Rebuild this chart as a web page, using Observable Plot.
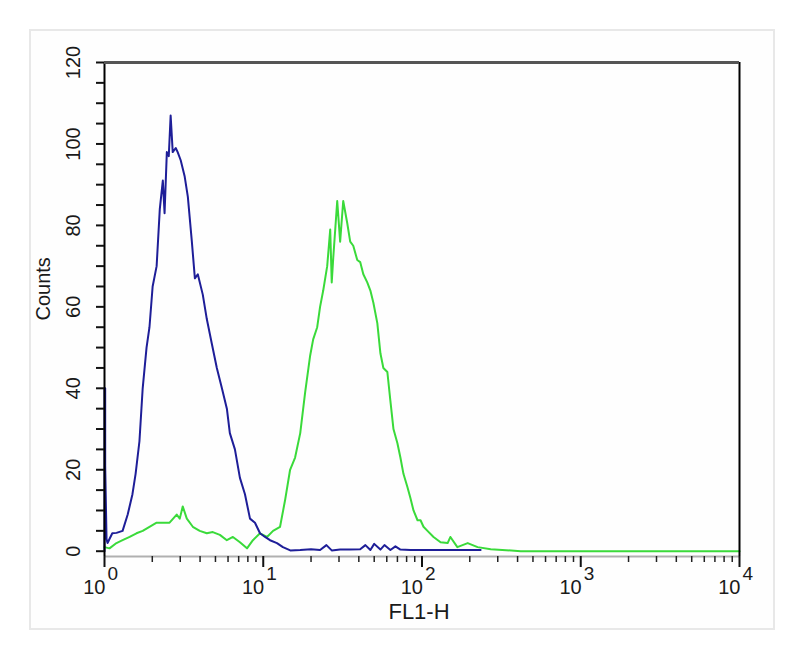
<!DOCTYPE html>
<html><head><meta charset="utf-8">
<script src="https://cdn.jsdelivr.net/npm/d3@7"></script>
<script src="https://cdn.jsdelivr.net/npm/@observablehq/plot@0.6"></script>
<style>
html,body{margin:0;padding:0;background:#fff;}
#wrap{position:relative;width:800px;height:656px;overflow:hidden;}
#box{position:absolute;left:29px;top:29px;width:742px;height:597px;border:2px solid #e8e8e8;background:#fefefe;}
#chart{position:absolute;left:0;top:0;}
</style></head><body>
<div id="wrap"><div id="box"></div><div id="chart"></div></div>
<script>
// Blue histogram (control)
const blueFL = [1.00,1.00,1.01,1.01,1.03,1.045,1.075,1.12,1.19,1.30,1.40,1.50,1.57,1.66,1.74,1.84,1.92,2.01,2.13,2.23,2.33,2.39,2.47,2.54,2.61,2.69,2.81,2.89,3.02,3.20,3.35,3.55,3.71,3.87,4.16,4.41,4.74,5.10,5.49,5.90,6.16,6.63,7.13,7.67,8.25,8.87,9.54,10.26,11.03,12.2,13.3,14.8,17.1,20,22.8,25,27,30.5,35,40.8,44,47.3,50,54.7,58,63.2,68,73.1,84.6,97.9,131,175,234];
const blueCounts = [0,40,40,21,3,2,3,4.4,4.5,5,9,14,19,27,40,50,55,65,70,84,91,83,98,97,107,98,99,98,96,92,87,76,67,68,63,57,51,45,40,35,29,25,18,14,8,7,4.4,3.5,2.7,2,1,0.2,0.3,0.5,0.3,1.5,0.2,0.4,0.4,0.5,1.5,0.3,1.8,0.4,1.5,0.3,1.2,0.4,0.3,0.3,0.3,0.3,0.3];
// Green histogram (antibody)
const greenFL = [1.00,1.075,1.19,1.30,1.44,1.59,1.74,1.92,2.13,2.33,2.57,2.85,2.98,3.11,3.30,3.60,3.98,4.41,4.81,5.33,5.90,6.44,7.13,7.90,8.61,9.54,10.56,11.53,12.76,13.72,14.76,15.87,17.1,18.36,19.74,20.63,21.87,22.8,23.86,25.28,26.41,27.0,27.6,29.24,30.5,31.9,33.8,35.3,36.9,39.1,40.8,42.7,45.2,47.3,49.4,52.3,54.7,57.1,60.5,63.2,66.1,70.0,73.1,76.4,81.0,84.6,88.4,93.7,97.9,102.2,108.3,118.2,130.9,145,151,167,194,224,271,419,1000,10000];
const greenCounts = [1,0.7,2,2.7,3.5,4.4,5,6,7,7,7,9,8,11,8,6,5,4.4,4.7,4,2.7,3.5,2.2,0.7,2.7,4.4,3.5,5,6,12.5,20,23,29,39,48,52,55,60,64,70,79,66,72,86,76,86,80.6,76,75,71.5,71,68,66,64,61,56,48.6,45,44,37,30,26.5,23,19,15.7,13,10,7.6,7.6,6,5,3.5,2.2,2,3.5,1,2,1,0.5,0,0,0];

const yMajorTicks = [0,20,40,60,80,100,120];
const yMinorTicks = [0,5,10,15,20,25,30,35,40,45,50,55,60,65,70,75,80,85,90,95,100,105,110,115,120];
const xMajorTicks = [1,10,100,1000,10000];
const xMinorTicks = [2,3,4,5,6,7,8,9,20,30,40,50,60,70,80,90,200,300,400,500,600,700,800,900,2000,3000,4000,5000,6000,7000,8000,9000];
const xExponents = ["0","1","2","3","4"];
const xLabel = "FL1-H";
const yLabel = "Counts";

const blue = blueFL.map((v,i)=>({fl:v, count:blueCounts[i]}));
const green = greenFL.map((v,i)=>({fl:v, count:greenCounts[i]}));

const font = "'Liberation Sans', Arial, Helvetica, sans-serif";
const ink = "#1a1a1a";
const chart = Plot.plot({
  width: 800, height: 656,
  marginLeft: 104, marginRight: 61, marginTop: 62, marginBottom: 100,
  style: {background: "transparent", fontFamily: font, color: ink},
  x: {type: "log", domain: [1, 10000], label: null, axis: null},
  y: {domain: [-1.3, 120], label: null, axis: null},
  marks: [
    Plot.ruleY([-1.3], {stroke: "#b0b0b0", strokeWidth: 2}),
    Plot.line(green, {x: "fl", y: "count", stroke: "#3ada3a", strokeWidth: 2}),
    Plot.line(blue, {x: "fl", y: "count", stroke: "#1e1e98", strokeWidth: 2}),
    Plot.ruleX([1], {stroke: "#000", strokeWidth: 2}),
    Plot.ruleX([10000], {stroke: "#000", strokeWidth: 2}),
    Plot.ruleY([120], {stroke: "#555", strokeWidth: 3}),
    Plot.axisY({ticks: yMinorTicks, tickSize: 8, tickFormat: () => "", stroke: "#111", strokeWidth: 2}),
    Plot.axisX({ticks: xMajorTicks, tickSize: 11, tickFormat: () => "", stroke: "#111", strokeWidth: 2}),
    Plot.axisX({ticks: xMinorTicks, tickSize: 6, tickFormat: () => "", stroke: "#222", strokeWidth: 1.5}),
    Plot.text(yMajorTicks, {y: d => d, text: d => String(d), frameAnchor: "left", dx: -31, rotate: -90, fontSize: 20, textAnchor: "middle", lineAnchor: "middle", fill: ink}),
    Plot.text(xMajorTicks, {x: d => d, text: () => "10", frameAnchor: "bottom", dx: 1, dy: 31, textAnchor: "end", lineAnchor: "middle", fontSize: 20, fill: ink}),
    Plot.text(xMajorTicks, {x: d => d, text: (d, i) => xExponents[i], frameAnchor: "bottom", dx: 3, dy: 17, textAnchor: "start", lineAnchor: "middle", fontSize: 19, fill: ink}),
    Plot.text([xLabel], {frameAnchor: "bottom", dx: -3, dy: 55, fontSize: 22, lineAnchor: "middle", fill: ink}),
    Plot.text([yLabel], {frameAnchor: "left", dx: -61, dy: 11, rotate: -90, fontSize: 20, lineAnchor: "middle", fill: ink})
  ]
});
document.getElementById("chart").appendChild(chart);
</script>
</body></html>
